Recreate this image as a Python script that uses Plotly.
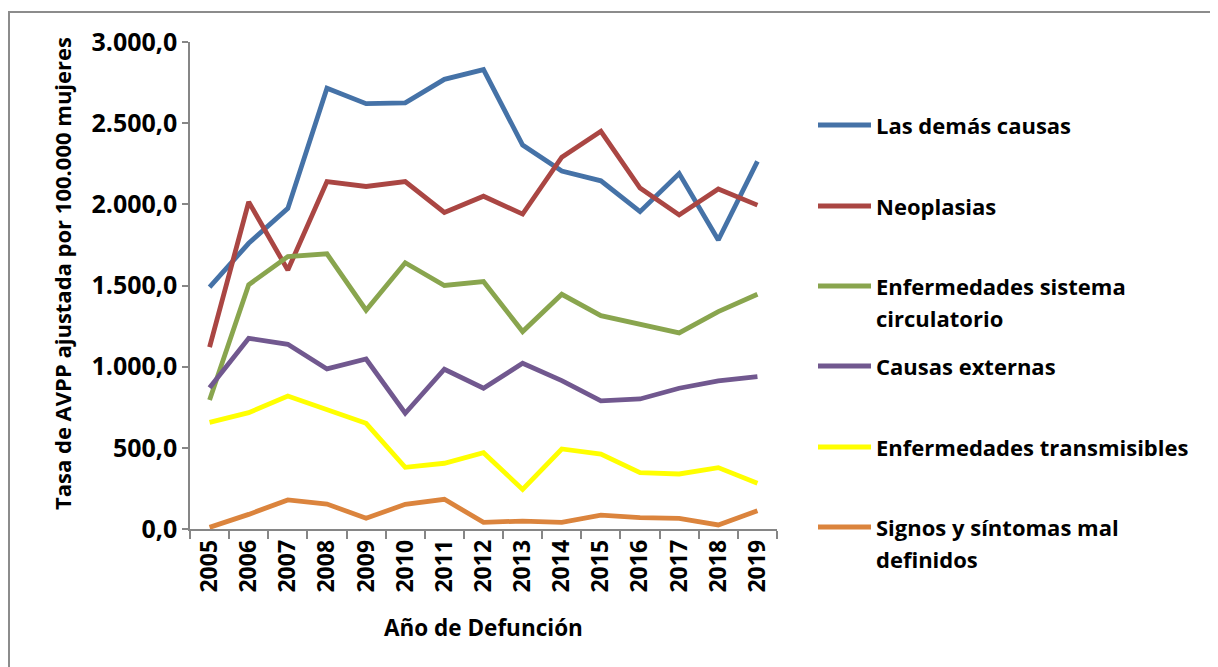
import plotly.graph_objects as go

years = [str(y) for y in range(2005, 2020)]

las_demas = [1490, 1760, 1975, 2715, 2620, 2625, 2770, 2830, 2365, 2205, 2145, 1955, 2190, 1780, 2265]
neoplasias = [1120, 2015, 1595, 2140, 2110, 2140, 1950, 2050, 1940, 2290, 2450, 2100, 1935, 2095, 1995]
circulatorio = [795, 1505, 1678, 1695, 1348, 1640, 1500, 1524, 1216, 1446, 1314, 1261, 1208, 1339, 1446]
externas = [870, 1175, 1138, 986, 1047, 713, 984, 867, 1021, 914, 789, 801, 867, 912, 939]
transmisibles = [657, 717, 819, 733, 651, 380, 405, 470, 244, 493, 462, 347, 339, 378, 282]
signos = [10, 90, 179, 154, 66, 152, 183, 41, 49, 41, 86, 70, 66, 25, 113]

series_names = ["Las demás causas", "Neoplasias", "Enfermedades sistema circulatorio",
                "Causas externas", "Enfermedades transmisibles", "Signos y síntomas mal definidos"]
legend_lines = [["Las demás causas"], ["Neoplasias"], ["Enfermedades sistema", "circulatorio"],
                ["Causas externas"], ["Enfermedades transmisibles"], ["Signos y síntomas mal", "definidos"]]
series_values = [las_demas, neoplasias, circulatorio, externas, transmisibles, signos]
colors = ["#4572A7", "#AA4643", "#89A54E", "#71588F", "#FFFF00", "#DB843D"]

OFF = 8  # page body margin
W, H = 1218 - OFF, 667 - OFF
L, R, T, B = 190 - OFF, 777 - OFF, 42 - OFF, 529 - OFF
FONT = "Open Sans"

fig = go.Figure()
for name, vals, col in zip(series_names, series_values, colors):
    fig.add_trace(go.Scatter(x=years, y=vals, mode="lines", name=name,
                             line=dict(color=col, width=4.8), showlegend=False))

def px(x):
    return (x - OFF - L) / (R - L)

def py(y):
    return (B - (y - OFF)) / (B - T)

shapes = []
annotations = []
# manual legend
leg_y = [125, 206, 286, 366, 447, 527]
for lines, col, yy in zip(legend_lines, colors, leg_y):
    shapes.append(dict(type="line", xref="paper", yref="paper",
                       x0=px(818), x1=px(871), y0=py(yy), y1=py(yy),
                       line=dict(color=col, width=4.8)))
    for k, txt in enumerate(lines):
        annotations.append(dict(text=txt, xref="paper", yref="paper",
                                x=px(874), y=py(yy + 32 * k), xanchor="left", yanchor="middle",
                                showarrow=False,
                                font=dict(family=FONT, size=22, color="#000000", weight="bold")))

# axis titles
annotations.append(dict(text="Tasa de AVPP ajustada por 100.000 mujeres", xref="paper", yref="paper",
                        x=px(62), y=py(274), textangle=-90, xanchor="center", yanchor="middle",
                        showarrow=False, font=dict(family=FONT, size=22, color="#000000", weight="bold")))
annotations.append(dict(text="Año de Defunción", xref="paper", yref="paper",
                        x=px(483), y=py(627), xanchor="center", yanchor="middle",
                        showarrow=False, font=dict(family=FONT, size=22.5, color="#000000", weight="bold")))

# outer border
shapes.append(dict(type="rect", xref="paper", yref="paper",
                   x0=px(9), x1=px(1215), y0=py(700), y1=py(12),
                   line=dict(color="#8c8c8c", width=2), fillcolor="rgba(0,0,0,0)", layer="below"))

fig.update_layout(
    width=W, height=H,
    margin=dict(l=L, r=W - R, t=T, b=H - B, pad=0),
    paper_bgcolor="white", plot_bgcolor="white",
    separators=",.",
    font=dict(family=FONT, size=22, color="#000000"),
    shapes=shapes, annotations=annotations,
    xaxis=dict(type="category", range=[-0.5, len(years) - 0.5], showgrid=False, showline=True,
               linecolor="#868686", linewidth=1.5,
               ticks="outside", tickson="boundaries", ticklen=8, tickcolor="#868686", tickwidth=1.5,
               tickangle=-90, tickfont=dict(family=FONT, size=23, weight="bold"), zeroline=False),
    yaxis=dict(range=[0, 3000], tickvals=[0, 500, 1000, 1500, 2000, 2500, 3000], tickformat=",.1f",
               showgrid=False, showline=True, linecolor="#868686", linewidth=1.5,
               ticks="outside", ticklen=6, tickcolor="#868686", tickwidth=1.5,
               tickfont=dict(family=FONT, size=25, weight="bold"), zeroline=False),
)

fig.write_html("out.html")
